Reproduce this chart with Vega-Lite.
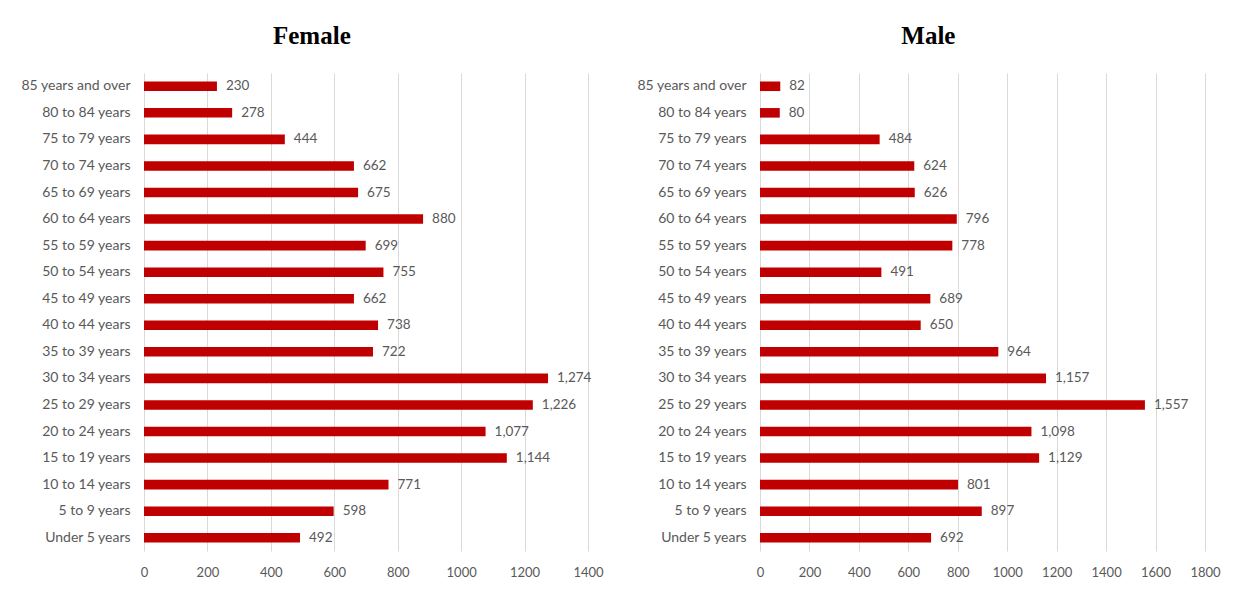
{
  "$schema": "https://vega.github.io/schema/vega-lite/v6.json",
  "background": "white",
  "padding": {"left": 20, "top": 24, "right": 5, "bottom": 5},
  "spacing": 32,
  "datasets": {
    "female": [
      {"age": "85 years and over", "value": 230},
      {"age": "80 to 84 years", "value": 278},
      {"age": "75 to 79 years", "value": 444},
      {"age": "70 to 74 years", "value": 662},
      {"age": "65 to 69 years", "value": 675},
      {"age": "60 to 64 years", "value": 880},
      {"age": "55 to 59 years", "value": 699},
      {"age": "50 to 54 years", "value": 755},
      {"age": "45 to 49 years", "value": 662},
      {"age": "40 to 44 years", "value": 738},
      {"age": "35 to 39 years", "value": 722},
      {"age": "30 to 34 years", "value": 1274},
      {"age": "25 to 29 years", "value": 1226},
      {"age": "20 to 24 years", "value": 1077},
      {"age": "15 to 19 years", "value": 1144},
      {"age": "10 to 14 years", "value": 771},
      {"age": "5 to 9 years", "value": 598},
      {"age": "Under 5 years", "value": 492}
    ],
    "male": [
      {"age": "85 years and over", "value": 82},
      {"age": "80 to 84 years", "value": 80},
      {"age": "75 to 79 years", "value": 484},
      {"age": "70 to 74 years", "value": 624},
      {"age": "65 to 69 years", "value": 626},
      {"age": "60 to 64 years", "value": 796},
      {"age": "55 to 59 years", "value": 778},
      {"age": "50 to 54 years", "value": 491},
      {"age": "45 to 49 years", "value": 689},
      {"age": "40 to 44 years", "value": 650},
      {"age": "35 to 39 years", "value": 964},
      {"age": "30 to 34 years", "value": 1157},
      {"age": "25 to 29 years", "value": 1557},
      {"age": "20 to 24 years", "value": 1098},
      {"age": "15 to 19 years", "value": 1129},
      {"age": "10 to 14 years", "value": 801},
      {"age": "5 to 9 years", "value": 897},
      {"age": "Under 5 years", "value": 692}
    ]
  },
  "config": {
    "view": {"stroke": null},
    "font": "Lato",
    "axis": {
      "domain": false,
      "ticks": false,
      "labelFont": "Lato",
      "labelColor": "#595959",
      "gridColor": "#d9d9d9",
      "gridWidth": 1,
      "labelFlush": false,
      "labelOverlap": false,
      "title": null
    },
    "title": {
      "font": "Liberation Serif",
      "fontSize": 25,
      "fontWeight": "bold",
      "color": "#000000",
      "anchor": "middle",
      "frame": "bounds",
      "offset": 24
    }
  },
  "hconcat": [
    {
      "title": "Female",
      "width": 444,
      "height": 478,
      "data": {"name": "female"},
      "encoding": {
        "y": {
          "field": "age", "type": "nominal",
          "sort": ["85 years and over","80 to 84 years","75 to 79 years","70 to 74 years","65 to 69 years","60 to 64 years","55 to 59 years","50 to 54 years","45 to 49 years","40 to 44 years","35 to 39 years","30 to 34 years","25 to 29 years","20 to 24 years","15 to 19 years","10 to 14 years","5 to 9 years","Under 5 years"],
          "scale": {"paddingInner": 0.64, "paddingOuter": 0.32},
          "axis": {"grid": false, "labelPadding": 14, "labelFontSize": 14}
        },
        "x": {
          "field": "value", "type": "quantitative",
          "scale": {"domain": [0, 1400], "nice": false},
          "axis": {"values": [0,200,400,600,800,1000,1200,1400], "format": "d", "labelPadding": 15, "labelFontSize": 13, "grid": true}
        }
      },
      "layer": [
        {"mark": {"type": "bar", "color": "#C00000"}},
        {"mark": {"type": "text", "align": "left", "baseline": "middle", "dx": 9, "fontSize": 13.5, "color": "#595959", "font": "Lato"},
         "encoding": {"text": {"field": "value", "type": "quantitative", "format": ","}}}
      ]
    },
    {
      "title": "Male",
      "width": 445,
      "height": 478,
      "data": {"name": "male"},
      "encoding": {
        "y": {
          "field": "age", "type": "nominal",
          "sort": ["85 years and over","80 to 84 years","75 to 79 years","70 to 74 years","65 to 69 years","60 to 64 years","55 to 59 years","50 to 54 years","45 to 49 years","40 to 44 years","35 to 39 years","30 to 34 years","25 to 29 years","20 to 24 years","15 to 19 years","10 to 14 years","5 to 9 years","Under 5 years"],
          "scale": {"paddingInner": 0.64, "paddingOuter": 0.32},
          "axis": {"grid": false, "labelPadding": 14, "labelFontSize": 14}
        },
        "x": {
          "field": "value", "type": "quantitative",
          "scale": {"domain": [0, 1800], "nice": false},
          "axis": {"values": [0,200,400,600,800,1000,1200,1400,1600,1800], "format": "d", "labelPadding": 15, "labelFontSize": 13, "grid": true}
        }
      },
      "layer": [
        {"mark": {"type": "bar", "color": "#C00000"}},
        {"mark": {"type": "text", "align": "left", "baseline": "middle", "dx": 9, "fontSize": 13.5, "color": "#595959", "font": "Lato"},
         "encoding": {"text": {"field": "value", "type": "quantitative", "format": ","}}}
      ]
    }
  ]
}
